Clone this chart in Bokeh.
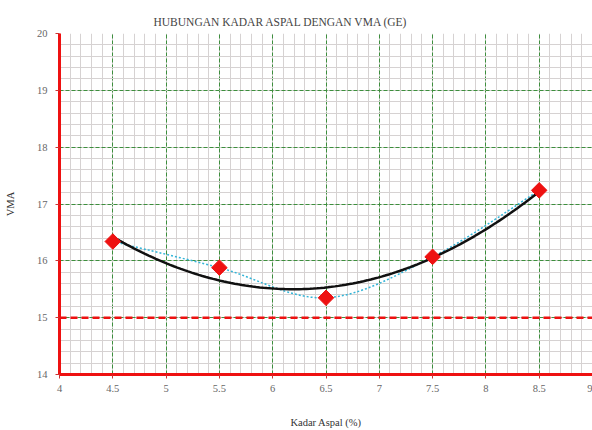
import numpy as np
from bokeh.plotting import figure
from bokeh.models import FixedTicker, Span, Title, Range1d
from bokeh.embed import file_html
from bokeh.resources import INLINE

# ---- data ----
kadar_aspal = [4.5, 5.5, 6.5, 7.5, 8.5]
vma = [16.34, 15.88, 15.35, 16.07, 17.24]
vma_min_limit = 15.0
x_ticks = [4, 4.5, 5, 5.5, 6, 6.5, 7, 7.5, 8, 8.5, 9]
x_tick_labels = ["4", "4.5", "5", "5.5", "6", "6.5", "7", "7.5", "8", "8.5", "9"]
y_ticks = [14, 15, 16, 17, 18, 19, 20]
y_tick_labels = ["14", "15", "16", "17", "18", "19", "20"]

SERIF = "Liberation Serif"

p = figure(width=592, height=430, output_backend="svg", toolbar_location=None,
           x_range=Range1d(4, 9.0), y_range=Range1d(14, 20),
           min_border_left=59, min_border_right=0, min_border_top=33, min_border_bottom=56)
p.outline_line_color = None
p.background_fill_color = "white"

t = Title(text="HUBUNGAN KADAR ASPAL DENGAN VMA (GE)", align="left", offset=94,
          text_font=SERIF, text_font_size="11.5px", text_font_style="normal",
          text_color="#444444", standoff=12)
p.add_layout(t, "above")

# tickers
x_minor = [round(v, 2) for v in np.arange(4, 9.001, 0.1)]
y_minor = [round(v, 2) for v in np.arange(14, 20.001, 0.2)]
p.xaxis.ticker = FixedTicker(ticks=x_ticks, minor_ticks=x_minor)
p.yaxis.ticker = FixedTicker(ticks=y_ticks, minor_ticks=y_minor)
p.xaxis.major_label_overrides = {v: s for v, s in zip(x_ticks, x_tick_labels)}
p.yaxis.major_label_overrides = {v: s for v, s in zip(y_ticks, y_tick_labels)}

for ax in (p.xaxis, p.yaxis):
    ax.axis_line_color = "#ee1111"
    ax.axis_line_width = 3
    ax.major_tick_line_color = "#cc3333"
    ax.major_tick_out = 4
    ax.major_tick_in = 0
    ax.minor_tick_line_color = None
    ax.major_label_text_font = SERIF
    ax.major_label_text_font_size = "10.5px"
    ax.major_label_text_color = "#666666"
    ax.axis_label_text_font = SERIF
    ax.axis_label_text_font_size = "10.5px"
    ax.axis_label_text_font_style = "normal"
    ax.axis_label_text_color = "#333333"

p.xaxis.axis_label = "Kadar Aspal (%)"
p.yaxis.axis_label = "VMA"
p.xaxis.major_label_standoff = 6
p.xaxis.axis_label_standoff = 22
p.yaxis.major_label_standoff = 8
p.yaxis.axis_label_standoff = 18

# grids
for g in (p.xgrid, p.ygrid):
    g.grid_line_color = "#3d8f3d"
    g.grid_line_dash = "4 2"
    g.grid_line_width = 1
    g.minor_grid_line_color = "#d6d2d2"
    g.minor_grid_line_width = 1

# limit line
p.add_layout(Span(location=vma_min_limit, dimension="width", line_color="#ee1111",
                  line_width=2.5, line_dash="7 4"))

# smoothed dotted line through points (Catmull-Rom as bezier)
xs = np.array(kadar_aspal, dtype=float)
ys = np.array(vma, dtype=float)
n = len(xs)
x0, y0, x1, y1, cx0, cy0, cx1, cy1 = [], [], [], [], [], [], [], []
for i in range(n - 1):
    xm, ym = (xs[i - 1], ys[i - 1]) if i > 0 else (xs[i], ys[i])
    xp, yp = (xs[i + 2], ys[i + 2]) if i + 2 < n else (xs[i + 1], ys[i + 1])
    x0.append(xs[i]); y0.append(ys[i]); x1.append(xs[i + 1]); y1.append(ys[i + 1])
    cx0.append(xs[i] + (xs[i + 1] - xm) / 6); cy0.append(ys[i] + (ys[i + 1] - ym) / 6)
    cx1.append(xs[i + 1] - (xp - xs[i]) / 6); cy1.append(ys[i + 1] - (yp - ys[i]) / 6)
p.bezier(x0=x0, y0=y0, x1=x1, y1=y1, cx0=cx0, cy0=cy0, cx1=cx1, cy1=cy1,
         line_color="#33b5d8", line_width=1.5, line_dash="2 2")

# polynomial (order 2) trendline
coef = np.polyfit(xs, ys, 2)
xf = np.linspace(xs.min(), xs.max(), 120)
p.line(xf, np.polyval(coef, xf), line_color="#111111", line_width=2.5)

# markers (square diamonds)
p.scatter(kadar_aspal, vma, marker="square", angle=np.pi / 4, size=11,
          fill_color="#ee1111", line_color="#ee1111")

open("out.html", "w").write(file_html(p, INLINE))
